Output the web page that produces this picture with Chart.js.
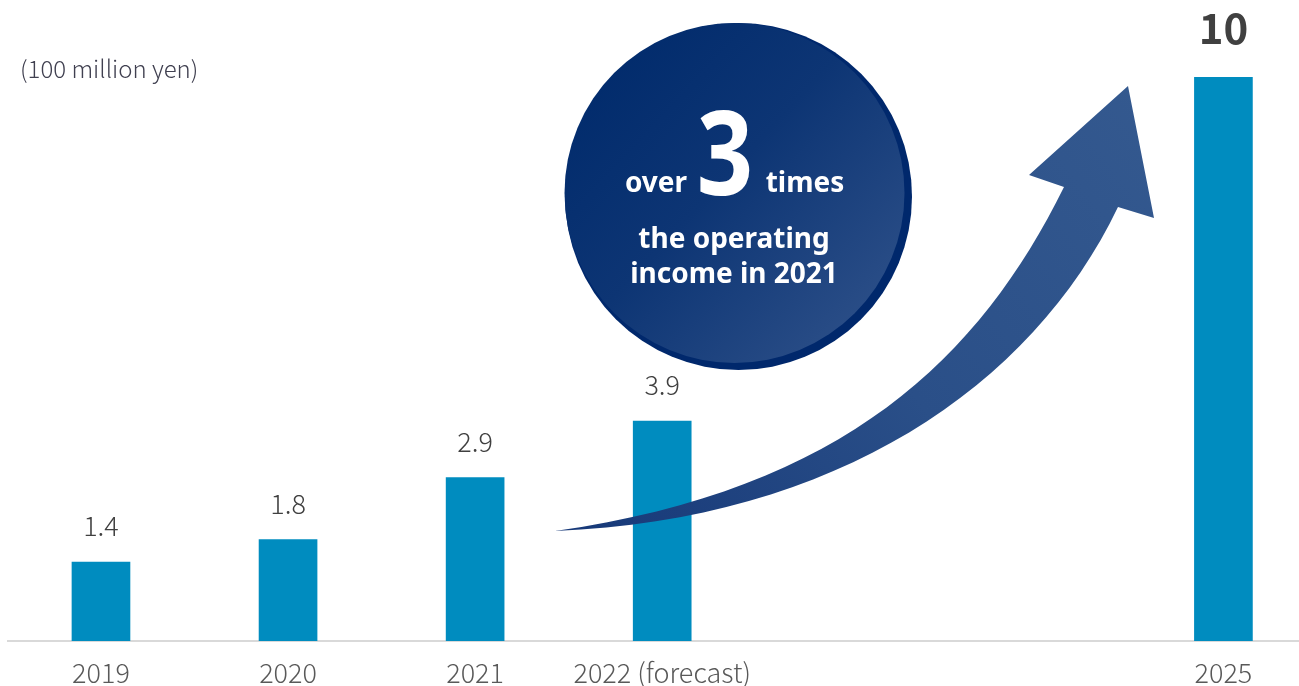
<!DOCTYPE html>
<html>
<head>
<meta charset="utf-8">
<style>
  html, body { margin: 0; padding: 0; background: #fff; overflow: hidden; }
  #wrap { position: relative; width: 1299px; height: 686px; }
</style>
</head>
<body>
<div id="wrap"><canvas id="income-chart" width="1299" height="686"></canvas></div>
<script src="https://cdn.jsdelivr.net/npm/chart.js@4/dist/chart.umd.min.js"></script>
<script>
// operating income, 100 million yen
var categories = ["2019", "2020", "2021", "2022 (forecast)", "", "", "2025"];
var income = [1.4, 1.8, 2.9, 3.9, null, null, 10];
var valueLabels = ["1.4", "1.8", "2.9", "3.9", "", "", "10"];
var tickSlots = [0, 1, 2, 3, 6];

var LABEL_FONT = '"Noto Sans CJK JP", "Noto Sans", sans-serif';

var points = [];
for (var i = 0; i < income.length; i++) {
  if (income[i] !== null) points.push({ x: i, y: income[i] });
}

// value labels over the bars, the 2025 goal in bold
var barLabels = {
  id: 'barLabels',
  afterDatasetsDraw: function(chart) {
    var ctx = chart.ctx;
    var meta = chart.getDatasetMeta(0);
    ctx.save();
    ctx.textAlign = 'center';
    ctx.textBaseline = 'alphabetic';
    meta.data.forEach(function(bar, k) {
      var idx = points[k].x;
      var big = idx === 6;
      ctx.fillStyle = '#404040';
      ctx.font = big ? 'bold 42px ' + LABEL_FONT : '300 27px ' + LABEL_FONT;
      ctx.fillText(valueLabels[idx], bar.x, bar.y - (big ? 33 : 26));
    });
    ctx.restore();
  }
};

// growth arrow and the "over 3 times" badge
var callout = {
  id: 'callout',
  afterDatasetsDraw: function(chart) {
    var ctx = chart.ctx;
    ctx.save();

    // arrow
    var g = ctx.createLinearGradient(555, 531, 1150, 90);
    g.addColorStop(0, '#163878');
    g.addColorStop(0.5, '#2a4f88');
    g.addColorStop(1, '#34598f');
    ctx.fillStyle = g;
    ctx.beginPath();
    ctx.moveTo(555, 531);
    ctx.bezierCurveTo(845, 490, 980, 357, 1064, 187);
    ctx.lineTo(1029, 175);
    ctx.lineTo(1128, 86);
    ctx.lineTo(1154, 218);
    ctx.lineTo(1118, 207);
    ctx.bezierCurveTo(1032, 387, 835, 520, 555, 531);
    ctx.closePath();
    ctx.fill();

    // badge: darker rim behind, gradient disc on top
    ctx.fillStyle = '#00286c';
    ctx.beginPath();
    ctx.arc(738.5, 196.5, 173.5, 0, Math.PI * 2);
    ctx.fill();
    var cg = ctx.createLinearGradient(600, 60, 880, 320);
    cg.addColorStop(0, '#012b6c');
    cg.addColorStop(0.45, '#0d3574');
    cg.addColorStop(1, '#2c4f88');
    ctx.fillStyle = cg;
    ctx.beginPath();
    ctx.arc(734.5, 193, 170, 0, Math.PI * 2);
    ctx.fill();

    ctx.fillStyle = '#ffffff';
    ctx.textBaseline = 'alphabetic';
    ctx.textAlign = 'center';
    // the big digit is a little condensed
    ctx.save();
    ctx.translate(725, 195);
    ctx.scale(0.85, 1);
    ctx.font = 'bold 116px "Noto Sans", sans-serif';
    ctx.fillText('3', 0, 0);
    ctx.restore();
    ctx.font = 'bold 28px "Noto Sans", sans-serif';
    ctx.fillText('over', 656, 192);
    ctx.fillText('times', 805, 192);
    ctx.fillText('the operating', 734, 248);
    ctx.fillText('income in 2021', 734, 283);
    ctx.restore();
  }
};

// unit caption
var unitCaption = {
  id: 'unitCaption',
  afterDraw: function(chart) {
    var ctx = chart.ctx;
    ctx.save();
    ctx.fillStyle = '#404050';
    ctx.font = '300 24px ' + LABEL_FONT;
    ctx.textAlign = 'left';
    ctx.textBaseline = 'alphabetic';
    ctx.fillText('(100 million yen)', 20, 78);
    ctx.restore();
  }
};

new Chart(document.getElementById('income-chart'), {
  type: 'bar',
  data: {
    datasets: [{
      data: points,
      backgroundColor: '#008cbf',
      borderWidth: 0,
      barThickness: 58
    }]
  },
  options: {
    responsive: false,
    animation: false,
    layout: { padding: { top: 0, left: 8, right: 0, bottom: 0 } },
    plugins: {
      legend: { display: false },
      tooltip: { enabled: false }
    },
    scales: {
      x: {
        type: 'linear',
        offset: false,
        min: -0.497,
        max: 6.404,
        grid: { display: false, drawTicks: false, offset: false },
        border: { display: true, color: '#d9d9d9', width: 2 },
        afterBuildTicks: function(scale) {
          scale.ticks = tickSlots.map(function(v) { return { value: v }; });
        },
        afterFit: function(scale) { scale.height = 45; },
        ticks: {
          autoSkip: false,
          maxRotation: 0,
          padding: 16,
          color: '#595959',
          font: { family: LABEL_FONT, size: 27, weight: '300' },
          callback: function(v) { return categories[v]; }
        }
      },
      y: {
        display: false,
        min: 0,
        max: 11.37
      }
    }
  },
  plugins: [barLabels, callout, unitCaption]
});
</script>
</body>
</html>
